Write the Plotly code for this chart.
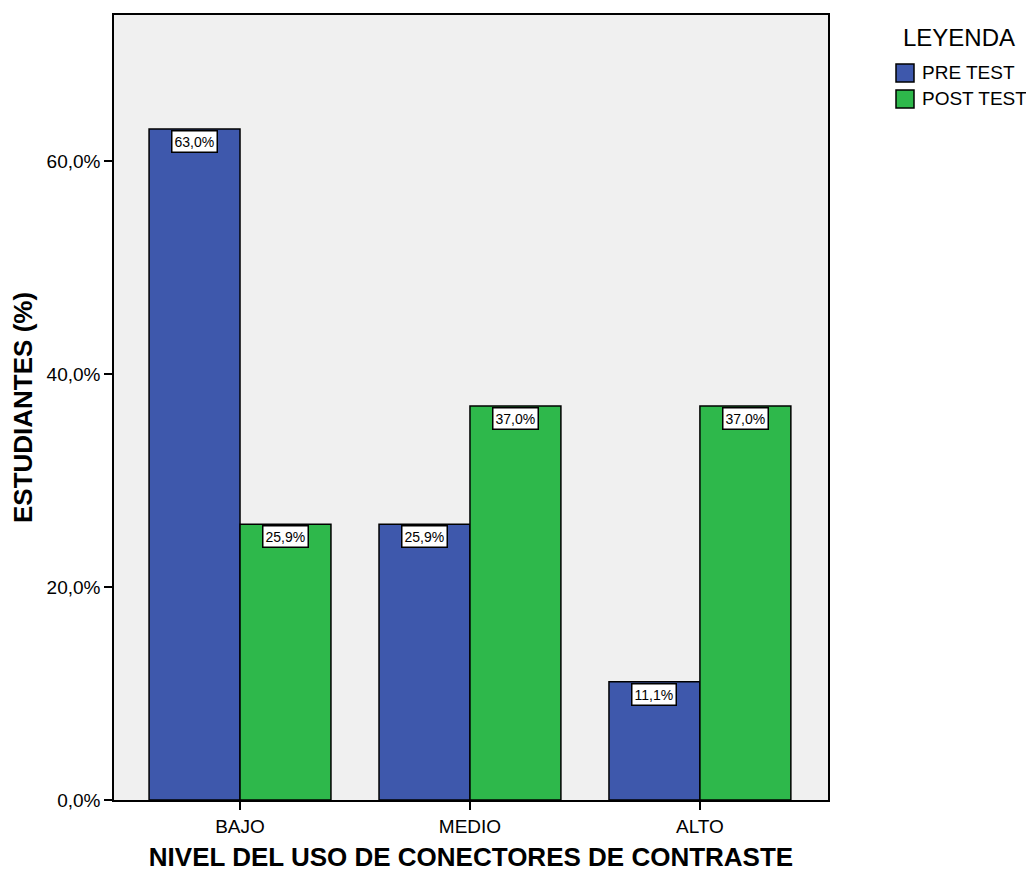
import plotly.graph_objects as go

categories = ["BAJO", "MEDIO", "ALTO"]
pre_test = [63.0, 25.9, 11.1]
post_test = [25.9, 37.0, 37.0]
series_names = ["PRE TEST", "POST TEST"]
y_ticks = [0, 20, 40, 60]
y_tick_labels = ["0,0%", "20,0%", "40,0%", "60,0%"]

BLUE = "#3E58AC"
GREEN = "#2EB84B"
FONT = "Liberation Sans, Arial"

OFF = 8  # default body margin of the html page
FW, FH = 1034 - OFF, 872 - OFF
L, R, T, B = 114 - OFF, 828 - OFF, 15 - OFF, 800 - OFF
W, H = R - L, B - T

def px_x(x):
    return (x - OFF - L) / W

def px_y(y):
    return (B - (y - OFF)) / H

fig = go.Figure()
for name, vals, col in ((series_names[0], pre_test, BLUE), (series_names[1], post_test, GREEN)):
    fig.add_trace(go.Bar(name=name, x=categories, y=vals, showlegend=False,
                         marker=dict(color=col, line=dict(color="black", width=1.5))))

def fmt(v):
    return f"{v:.1f}%".replace(".", ",")

for i, c in enumerate(categories):
    for vals, shift in ((pre_test, -45.5), (post_test, 45.5)):
        fig.add_annotation(x=c, y=vals[i], text=fmt(vals[i]), showarrow=False,
                           xshift=shift, yanchor="top", yshift=-1,
                           font=dict(family=FONT, size=14, color="black"),
                           bgcolor="white", bordercolor="black", borderwidth=1.5, borderpad=2)

# Legend drawn manually
fig.add_annotation(xref="paper", yref="paper", x=px_x(959), y=px_y(38), text="LEYENDA",
                   showarrow=False, xanchor="center", yanchor="middle",
                   font=dict(family=FONT, size=24, color="black"))
for j, (name, col) in enumerate(zip(series_names, (BLUE, GREEN))):
    cy = 73 + 26 * j
    fig.add_shape(type="rect", xref="paper", yref="paper",
                  x0=px_x(896), x1=px_x(914), y0=px_y(cy - 9), y1=px_y(cy + 9),
                  fillcolor=col, line=dict(color="black", width=1.5))
    fig.add_annotation(xref="paper", yref="paper", x=px_x(920), y=px_y(cy), text=name,
                       showarrow=False, xanchor="left", yanchor="middle",
                       font=dict(family=FONT, size=19, color="black"))

fig.update_layout(
    width=FW, height=FH,
    margin=dict(l=L, r=FW - R, t=T, b=FH - B, autoexpand=False),
    paper_bgcolor="white", plot_bgcolor="#F0F0F0",
    barmode="group", bargap=0.209, bargroupgap=0,
    font=dict(family=FONT, color="black"),
    showlegend=False,
    xaxis=dict(range=[-0.548, 2.557], showline=True, linecolor="black", linewidth=1.5,
               mirror=True, ticks="outside", ticklen=8, tickcolor="black", tickwidth=1.5,
               tickfont=dict(size=19), automargin=False,
               title=dict(text="<b>NIVEL DEL USO DE CONECTORES DE CONTRASTE</b>",
                          font=dict(size=26), standoff=12)),
    yaxis=dict(range=[0, 73.7], tickvals=y_ticks, ticktext=y_tick_labels,
               showline=True, linecolor="black", linewidth=1.5, mirror=True,
               ticks="outside", ticklen=8, tickcolor="black", tickwidth=1.5, showgrid=False,
               zeroline=False, tickfont=dict(size=19), automargin=False,
               title=dict(text="<b>ESTUDIANTES (%)</b>", font=dict(size=26), standoff=10)),
)

fig.write_html("out.html")
